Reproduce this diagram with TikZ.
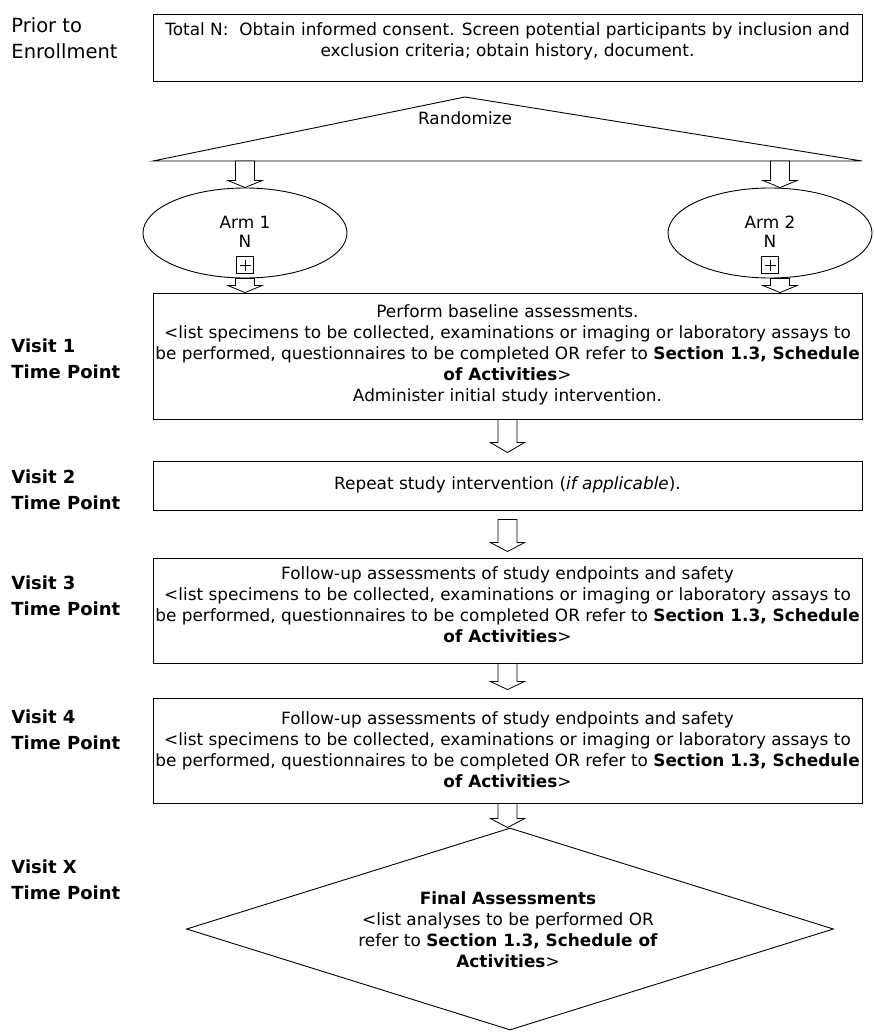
\documentclass[tikz,border=0pt]{standalone}
\usepackage{fontspec}
\setmainfont{DejaVu Sans}
\usetikzlibrary{shapes.geometric,calc}

% hollow block arrow pointing down: #1 shaft top, #2 tip, #3 head length
\newcommand\hollowdown[3]{%
  \draw[hollow] let \p1=(#1), \p2=(#2) in
    (\x1-9.5pt,\y1) -- (\x1+9.5pt,\y1) -- (\x1+9.5pt,\y2+#3) -- (\x1+17pt,\y2+#3)
    -- (\x1,\y2) -- (\x1-17pt,\y2+#3) -- (\x1-9.5pt,\y2+#3) -- cycle;}

\begin{document}
\begin{tikzpicture}[x=1pt,y=-1pt,line width=0.9pt,
  box/.style={draw,rectangle,minimum width=709pt,inner sep=0pt},
  body/.style={inner sep=0pt,align=center,font=\fontsize{16.9}{21}\selectfont},
  side/.style={inner sep=0pt,anchor=west,align=left,font=\fontsize{19.5}{26}\selectfont},
  visit/.style={side,font=\fontsize{18}{25.5}\selectfont\bfseries},
  arm/.style={draw,ellipse,minimum width=204pt,minimum height=90pt,inner sep=0pt},
  plusbox/.style={draw,minimum size=17pt,inner sep=0pt,line width=0.8pt,
    path picture={
      \draw[shorten >=3pt,shorten <=3pt] (path picture bounding box.north) -- (path picture bounding box.south);
      \draw[shorten >=3pt,shorten <=3pt] (path picture bounding box.west) -- (path picture bounding box.east);}},
  hollow/.style={draw,fill=white,line width=0.8pt,line join=miter},
]
\useasboundingbox (0,0) rectangle (874,1032);

% time point labels
\node[side] (lprior) at (11,38) {Prior to\\Enrollment};
\node[visit] (lv1) at (11,359) {Visit 1\\Time Point};
\node[visit] (lv2) at (11,490) {Visit 2\\Time Point};
\node[visit] (lv3) at (11,596) {Visit 3\\Time Point};
\node[visit] (lv4) at (11,730) {Visit 4\\Time Point};
\node[visit] (lvx) at (11,880) {Visit X\\Time Point};

% enrollment
\node[box,minimum height=67pt] (top) at (507.5,47.5) {};
\node[body] (toptext) at (507.5,41) {Total N:\ \ Obtain informed consent. Screen potential participants by inclusion and\\exclusion criteria; obtain history, document.};

% randomization
\draw (153,161) -- (465,97) -- (862,161) -- cycle;
\coordinate (tribase) at (507.5,161);
\node[body] (rand) at (465,118) {Randomize};

% study arms
\node[arm] (arm1) at (245,233) {};
\node[body,font=\fontsize{16.9}{19}\selectfont] (arm1t) at (245,231.5) {Arm 1\\N};
\node[plusbox] (arm1p) at (245,265) {};
\node[arm] (arm2) at (770,233) {};
\node[body,font=\fontsize{16.9}{19}\selectfont] (arm2t) at (770,231.5) {Arm 2\\N};
\node[plusbox] (arm2p) at (770,265) {};

% visit 1
\node[box,minimum height=126pt] (v1) at (507.5,356) {};
\node[body] (v1t) at (507.5,354.5) {Perform baseline assessments.\\
  <list specimens to be collected, examinations or imaging or laboratory assays to\\
  be performed, questionnaires to be completed OR refer to \textbf{Section 1.3, Schedule}\\
  \textbf{of Activities}>\\
  Administer initial study intervention.};

% visit 2
\node[box,minimum height=49pt] (v2) at (507.5,485.5) {};
\node[body] (v2t) at (507.5,485) {Repeat study intervention (\textit{if applicable}).};

% visit 3
\node[box,minimum height=105pt] (v3) at (507.5,610.5) {};
\node[body] (v3t) at (507.5,605) {Follow-up assessments of study endpoints and safety\\
  <list specimens to be collected, examinations or imaging or laboratory assays to\\
  be performed, questionnaires to be completed OR refer to \textbf{Section 1.3, Schedule}\\
  \textbf{of Activities}>};

% visit 4
\node[box,minimum height=105pt] (v4) at (507.5,750.5) {};
\node[body] (v4t) at (507.5,750) {Follow-up assessments of study endpoints and safety\\
  <list specimens to be collected, examinations or imaging or laboratory assays to\\
  be performed, questionnaires to be completed OR refer to \textbf{Section 1.3, Schedule}\\
  \textbf{of Activities}>};

% final visit
\node[draw,diamond,minimum width=647pt,minimum height=202pt,inner sep=0pt] (fin) at (510,929) {};
\node[body] (fint) at (508,930) {\textbf{Final Assessments}\\
  <list analyses to be performed OR\\
  refer to \textbf{Section 1.3, Schedule of}\\
  \textbf{Activities}>};

% flow arrows
\hollowdown{tribase -| arm1.north}{arm1.north}{7pt}
\hollowdown{$(tribase -| arm2.north)+(10,0)$}{$(arm2.north)+(10,0)$}{7pt}
\hollowdown{arm1.south}{v1.north -| arm1.south}{7pt}
\hollowdown{$(arm2.south)+(10,0)$}{$(v1.north -| arm2.south)+(10,0)$}{7pt}
\hollowdown{v1.south}{$(v2.north)+(0,-8)$}{10pt}
\hollowdown{$(v2.south)+(0,9)$}{$(v3.north)+(0,-6)$}{9pt}
\hollowdown{v3.south}{$(v4.north)+(0,-8)$}{8pt}
\hollowdown{v4.south}{fin.north}{9pt}
\end{tikzpicture}
\end{document}
